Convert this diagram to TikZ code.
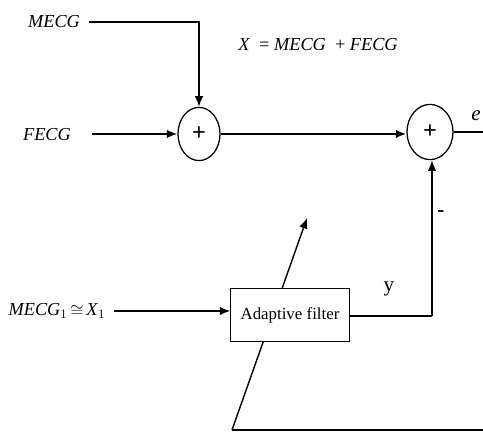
\documentclass[tikz,border=0pt]{standalone}
\usepackage{fontspec}
\setmainfont{Liberation Serif}
\usepackage{tikz}
\usetikzlibrary{positioning,calc,shapes.geometric,arrows.meta}

\begin{document}
\begin{tikzpicture}[x=0.025cm, y=-0.025cm, >={Latex[length=7.5pt,width=6pt]}]
      \useasboundingbox (0,0) rectangle (483,432);
      % Feedback path (drawn first, the filter box covers it)
      \coordinate (fbl) at (232,430);
      \coordinate (fbr) at (483,430);
      \coordinate (tip) at (307,218);
      \draw [line width=1pt] (fbr) -- (fbl);
      \draw [->, line width=1pt] (fbl) -- (tip);

      % Nodes
      \node [font=\fontsize{13}{15}\selectfont\itshape, inner sep=1pt] (mecg) at (54,22) {MECG};
      \node [font=\fontsize{13}{15}\selectfont\itshape, inner sep=1pt] (fecg) at (47,135) {FECG};
      \node [font=\fontsize{13}{15}\selectfont, inner sep=1pt] (refin) at (57,311)
        {\textit{MECG}$_1\,{\cong}\,$\textit{X}$_1$};
      \node [font=\fontsize{13}{15}\selectfont, inner sep=1pt] (eqn) at (318,45)
        {\textit{X}\ \ = \textit{MECG}\ \ + \textit{FECG}};

      \node [draw, ellipse, line width=0.9pt, minimum width=1.05cm, minimum height=1.33cm, inner sep=0pt, font=\LARGE\bfseries] (sum1) at (199,134) {+};
      \node [draw, ellipse, line width=0.9pt, minimum width=1.15cm, minimum height=1.38cm, inner sep=0pt, font=\LARGE\bfseries] (sum2) at (430,132) {+};

      \node [draw, fill=white, rectangle, line width=0.7pt, minimum width=2.95cm, minimum height=1.3cm, font=\fontsize{12}{14}\selectfont] (filt) at (290,315) {Adaptive filter};

      \node [font=\fontsize{15}{17}\selectfont\itshape] (err) at (476,116) {e};
      \node [font=\fontsize{15}{17}\selectfont] (ylab) at (389,289) {y};
      \node [font=\fontsize{15}{17}\selectfont\bfseries] (minus) at (441,214) {-};

      \coordinate (turn) at (432,316);

      % Arrows
      \draw [->, line width=1pt] ([xshift=5pt]mecg.east) -| (sum1.north);
      \draw [->, line width=1.3pt] ([xshift=14pt]fecg.east |- sum1.west) -- (sum1.west);
      \draw [->, line width=1.6pt] (sum1.east) -- (sum1.east -| sum2.west);
      \draw [line width=1pt] (sum2.east) -- (sum2.east -| fbr);
      \draw [line width=1pt] (filt.east |- turn) -- (turn);
      \draw [->, line width=1pt] (turn) -- (turn |- sum2.south);
      \draw [->, line width=1.3pt] ([xshift=5pt]refin.east) -- (filt.west |- refin.east);
    \end{tikzpicture}
\end{document}
